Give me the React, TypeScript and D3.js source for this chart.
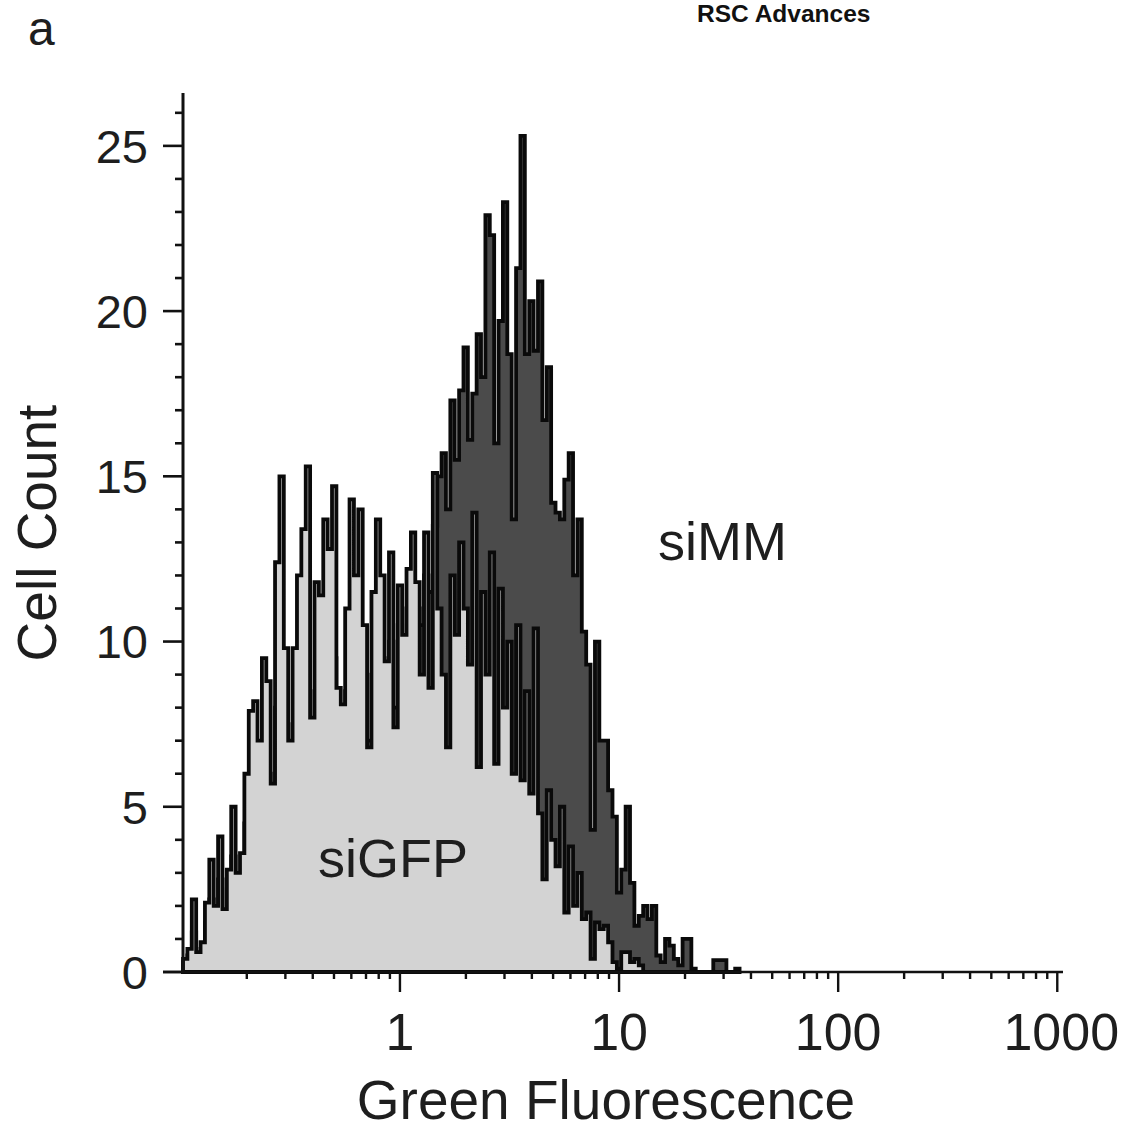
import React from "react";
import * as d3 from "d3";

// Histogram channels: log10 start and log10 width of each bin
const BIN_LOG_START = -0.99;
const BIN_LOG_STEP = 0.02;

// siGFP cell counts per bin
const siGFP = [
  0.4, 0.7, 2.2, 0.6, 0.9, 2.1, 3.4, 2.0, 4.1, 1.9,
  3.1, 5.0, 3.0, 3.6, 6.0, 7.9, 8.2, 7.0, 9.5, 8.8,
  5.7, 12.4, 15.0, 9.8, 7.0, 9.8, 12.0, 13.4, 15.3, 7.7,
  11.8, 11.4, 13.7, 12.8, 14.7, 8.6, 8.1, 11.0, 14.3, 12.0,
  14.0, 10.5, 6.8, 11.5, 13.7, 12.0, 9.4, 12.7, 7.4, 11.7,
  10.2, 12.2, 13.3, 11.8, 9.0, 13.3, 8.6, 15.1, 11.0, 9.0,
  6.8, 12.0, 10.2, 13.0, 11.0, 9.3, 13.9, 6.2, 11.5, 9.0,
  12.7, 6.3, 11.6, 8.0, 10.0, 6.0, 10.5, 5.8, 8.5, 5.4,
  10.4, 4.8, 2.8, 5.5, 4.0, 3.2, 5.0, 1.8, 3.8, 2.0,
  3.0, 1.6, 1.8, 0.4, 1.5, 1.3, 1.4, 0.9, 0.3, 0.1,
  0.6, 0.6, 0.3, 0.4, 0.2, 0, 0, 0, 0, 0,
  0, 0, 0, 0, 0, 0, 0, 0, 0, 0,
  0, 0, 0, 0, 0, 0, 0,
];

// siMM cell counts per bin
const siMM = [
  0.3, 0.5, 1.2, 0.5, 0.7, 1.5, 2.2, 1.6, 2.8, 1.8,
  2.5, 3.5, 2.6, 3.0, 4.5, 5.5, 5.0, 5.5, 6.5, 6.0,
  5.0, 8.0, 9.0, 7.5, 6.5, 7.5, 8.5, 9.0, 9.5, 7.0,
  8.5, 8.0, 9.0, 8.5, 9.5, 7.5, 7.5, 8.5, 9.5, 9.0,
  9.5, 8.5, 7.0, 9.0, 10.0, 9.5, 8.5, 10.0, 8.0, 10.5,
  10.0, 11.0, 11.5, 11.0, 10.5, 12.0, 11.5, 13.5, 15.0, 15.7,
  14.0, 17.3, 15.5, 17.6, 18.9, 16.1, 17.5, 19.3, 18.0, 22.9,
  22.3, 16.0, 19.7, 23.3, 18.7, 13.7, 21.3, 25.3, 18.7, 20.3,
  18.8, 20.9, 16.7, 18.3, 14.2, 13.9, 13.7, 14.9, 15.7, 12.0,
  13.7, 10.3, 9.3, 4.3, 10.0, 7.0, 7.0, 5.5, 4.7, 2.4,
  3.1, 5.0, 2.7, 1.4, 1.7, 2.0, 1.6, 2.0, 0.5, 0.3,
  1.0, 0.8, 0.4, 0.2, 1.0, 1.0, 0.1, 0, 0, 0,
  0, 0.36, 0.36, 0.36, 0, 0, 0.1,
];

const yTickLabels = [0, 5, 10, 15, 20, 25];
const xTickLabels = [1, 10, 100, 1000];
const seriesLabels = ["siGFP", "siMM"];

const X_DOMAIN = [0.1023, 1062];
const Y_DOMAIN = [0, 26.6];

const FONT = "Arial, 'Liberation Sans', Helvetica, sans-serif";
const TEXT = "#1e1e1e";

function histPath(values: number[], x: any, y: any) {
  const pts = values.map((v, i) => ({
    x: Math.pow(10, BIN_LOG_START + i * BIN_LOG_STEP),
    v,
  }));
  pts.push({
    x: Math.pow(10, BIN_LOG_START + values.length * BIN_LOG_STEP),
    v: values[values.length - 1],
  });
  const area = d3
    .area<{ x: number; v: number }>()
    .x((d) => x(d.x))
    .y0(y(0))
    .y1((d) => y(d.v))
    .curve(d3.curveStepAfter);
  return area(pts) || "";
}

export default function App() {
  const W = 1126;
  const H = 1133;
  const left = 183;
  const right = 1063;
  const top = 93;
  const bottom = 972;

  const x = d3.scaleLog().domain(X_DOMAIN).range([left, right]);
  const y = d3.scaleLinear().domain(Y_DOMAIN).range([bottom, top]);

  const xTicks = x.ticks().filter((t) => t >= X_DOMAIN[0] && t <= X_DOMAIN[1]);
  const isMajor = (t: number) => Math.abs(Math.log10(t) - Math.round(Math.log10(t))) < 1e-9;
  const yMinor = d3.range(0, 27);

  const pMM = histPath(siMM, x, y);
  const pGFP = histPath(siGFP, x, y);

  return (
    <svg
      width={W}
      height={H}
      style={{ position: "absolute", left: 0, top: 0, background: "#fff" }}
      fontFamily={FONT}
    >
      <rect x={0} y={0} width={W} height={H} fill="#fff" />
      {/* header */}
      <text x={28} y={45} fontSize={48} fill={TEXT}>a</text>
      <text x={697} y={22} fontSize={24.5} fontWeight="bold" fill="#111">RSC Advances</text>

      {/* histograms */}
      <path d={pMM} fill="#4b4b4b" stroke="#0a0a0a" strokeWidth={3.8} />
      <path d={pGFP} fill="#d3d3d3" stroke="#0a0a0a" strokeWidth={3.8} />

      {/* y axis */}
      <line x1={left} x2={left} y1={top} y2={bottom} stroke="#111" strokeWidth={3} />
      {yMinor.map((v) => {
        const major = v % 5 === 0;
        return (
          <line
            key={"yt" + v}
            x1={major ? left - 20 : left - 8}
            x2={left}
            y1={y(v)}
            y2={y(v)}
            stroke="#111"
            strokeWidth={2.6}
          />
        );
      })}
      {yTickLabels.map((v) => (
        <text
          key={"yl" + v}
          x={148}
          y={y(v)}
          dy="0.36em"
          textAnchor="end"
          fontSize={47}
          fill={TEXT}
        >
          {v}
        </text>
      ))}

      {/* x axis */}
      <line x1={163} x2={right} y1={bottom} y2={bottom} stroke="#111" strokeWidth={2.6} />
      {xTicks.map((t, i) => {
        const major = isMajor(t);
        return (
          <line
            key={"xt" + i}
            x1={x(t)}
            x2={x(t)}
            y1={bottom}
            y2={bottom + (major ? 20 : 7)}
            stroke="#111"
            strokeWidth={2.4}
          />
        );
      })}
      {xTickLabels.map((t) => (
        <text
          key={"xl" + t}
          x={x(t) + (t === 1000 ? 4 : 0)}
          y={1050}
          textAnchor="middle"
          fontSize={52}
          fill={TEXT}
        >
          {t}
        </text>
      ))}

      {/* axis titles */}
      <text x={606} y={1119} textAnchor="middle" fontSize={55} fill={TEXT}>
        Green Fluorescence
      </text>
      <text
        transform={`translate(56, 533) rotate(-90)`}
        textAnchor="middle"
        fontSize={55}
        fill={TEXT}
      >
        Cell Count
      </text>

      {/* series labels */}
      <text x={318} y={877} fontSize={54} fill={TEXT}>{seriesLabels[0]}</text>
      <text x={658} y={560} fontSize={54} fill={TEXT}>{seriesLabels[1]}</text>
    </svg>
  );
}
